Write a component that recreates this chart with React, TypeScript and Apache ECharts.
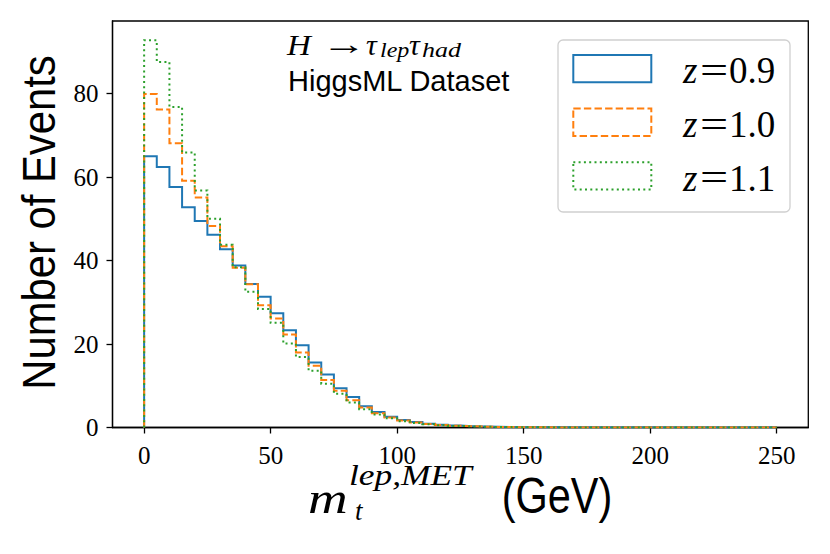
import React, { useEffect, useRef } from "react";
import * as echarts from "echarts";

// ---- data ----
const BIN_WIDTH = 5; // GeV per bin, bins start at 0
const X_TICKS = [0, 50, 100, 150, 200, 250];
const Y_TICKS = [0, 20, 40, 60, 80];
const X_MIN = -12.5;
const X_MAX = 262.5;
const Y_MIN = 0;
const Y_MAX = 97.4;

const Z_LABELS = ["0.9", "1.0", "1.1"];

const COUNTS_Z09 = [
  65.0, 62.4, 57.6, 52.8, 49.5, 46.2, 42.7, 38.8, 34.4, 31.3,
  27.4, 23.3, 19.7, 15.6, 12.7, 9.4, 7.3, 5.1, 3.7, 2.6,
  1.8, 1.3, 0.9, 0.65, 0.45, 0.32, 0.22, 0.16, 0.11, 0.08,
  0.06, 0.04, 0.03, 0.02, 0.015, 0.01, 0.008, 0.006, 0.005, 0.004,
  0.003, 0.002, 0.002, 0.001, 0.001, 0.001, 0.0, 0.0, 0.0, 0.0,
];
const COUNTS_Z10 = [
  79.9, 76.2, 68.1, 59.1, 55.1, 48.3, 43.4, 38.3, 34.3, 29.3,
  26.1, 22.3, 18.0, 14.8, 11.4, 8.8, 6.5, 4.8, 3.4, 2.4,
  1.7, 1.2, 0.85, 0.6, 0.42, 0.3, 0.2, 0.14, 0.1, 0.07,
  0.05, 0.035, 0.025, 0.018, 0.012, 0.009, 0.007, 0.005, 0.004, 0.003,
  0.002, 0.002, 0.001, 0.001, 0.001, 0.0, 0.0, 0.0, 0.0, 0.0,
];
const COUNTS_Z11 = [
  92.8, 87.6, 76.8, 65.9, 56.8, 50.0, 43.8, 38.4, 32.5, 28.4,
  25.1, 20.1, 16.9, 13.6, 10.5, 8.1, 6.0, 4.4, 3.1, 2.2,
  1.5, 1.1, 0.8, 0.55, 0.38, 0.27, 0.18, 0.12, 0.09, 0.06,
  0.04, 0.03, 0.02, 0.015, 0.01, 0.008, 0.006, 0.004, 0.003, 0.002,
  0.002, 0.001, 0.001, 0.001, 0.0, 0.0, 0.0, 0.0, 0.0, 0.0,
];

const COLORS = ["#1f77b4", "#ff7f0e", "#2ca02c"];
const DASHES: (number[] | "solid")[] = ["solid", [7.4, 3.2], [2, 3.3]];
const ALL_COUNTS = [COUNTS_Z09, COUNTS_Z10, COUNTS_Z11];

const SERIF = "'Liberation Serif', 'DejaVu Serif', serif";
const SANS = "'Liberation Sans', 'DejaVu Sans', sans-serif";

function stepPoints(counts: number[]) {
  const pts: number[][] = [[0, 0]];
  counts.forEach((c, i) => {
    pts.push([i * BIN_WIDTH, c]);
    pts.push([(i + 1) * BIN_WIDTH, c]);
  });
  pts.push([counts.length * BIN_WIDTH, 0]);
  return pts;
}

function txt(
  text: string,
  x: number,
  y: number,
  size: number,
  font: string,
  o: { italic?: boolean; align?: string; sx?: number; rot?: number } = {}
) {
  return {
    type: "text",
    x,
    y,
    scaleX: o.sx ?? 1,
    rotation: o.rot ?? 0,
    z: 100,
    silent: true,
    style: {
      text,
      fontSize: size,
      fontFamily: font,
      fontStyle: o.italic ? "italic" : "normal",
      fill: "#000",
      align: o.align ?? "left",
      verticalAlign: "middle",
    },
  };
}

export default function App() {
  const ref = useRef<HTMLDivElement>(null);

  useEffect(() => {
    if (!ref.current) return;
    const chart = echarts.init(ref.current, undefined, { renderer: "svg" });

    const series = ALL_COUNTS.map((counts, i) => ({
      type: "line",
      name: "z=" + Z_LABELS[i],
      data: stepPoints(counts),
      showSymbol: false,
      symbol: "none",
      silent: true,
      z: 2 + i,
      lineStyle: {
        color: COLORS[i],
        width: 2,
        type: DASHES[i],
        cap: "butt",
        join: "miter",
      },
    }));

    const legendGraphics: any[] = [
      {
        type: "rect",
        shape: { x: 558, y: 40, width: 232, height: 172, r: 5 },
        style: { fill: "rgba(255,255,255,0.8)", stroke: "#d0d0d0", lineWidth: 1.3 },
        z: 90,
        silent: true,
      },
    ];
    Z_LABELS.forEach((lab, i) => {
      const top = 55 + i * 53.6;
      const mid = 70.8 + i * 53.6;
      legendGraphics.push({
        type: "rect",
        shape: { x: 573.3, y: top, width: 78, height: 27.3 },
        style: {
          fill: "none",
          stroke: COLORS[i],
          lineWidth: 2,
          lineDash: DASHES[i] === "solid" ? null : DASHES[i],
        },
        z: 95,
        silent: true,
      });
      legendGraphics.push(txt("z", 683, mid, 37, SERIF, { italic: true }));
      legendGraphics.push(txt("=", 714.2, mid, 37, SERIF, { align: "center", sx: 1.35 }));
      legendGraphics.push(txt(lab, 729, mid, 37, SERIF));
    });

    const textGraphics = [
      // y axis title
      txt("Number of Events", 39, 222.5, 46, SANS, { align: "center", sx: 0.909, rot: Math.PI / 2 }),
      // x axis title
      txt("m", 308, 498, 44, SERIF, { italic: true, sx: 1.25 }),
      txt("t", 355, 511, 27, SERIF, { italic: true }),
      txt("lep,MET", 349, 475, 29, SERIF, { italic: true, sx: 1.22 }),
      txt("(GeV)", 557, 495.5, 50, SANS, { align: "center", sx: 0.83 }),
      // annotation
      txt("H", 287, 44.8, 30, SERIF, { italic: true, sx: 1.1 }),
      txt("→", 344, 43.5, 30, SERIF, { align: "center", sx: 1.5 }),
      txt("τ", 366, 44.8, 30, SERIF, { italic: true }),
      txt("lep", 380, 50.5, 20, SERIF, { italic: true, sx: 1.2 }),
      txt("τ", 409, 44.8, 30, SERIF, { italic: true }),
      txt("had", 422, 50.5, 20, SERIF, { italic: true, sx: 1.3 }),
      txt("HiggsML Dataset", 288, 81, 29, SANS),
    ];

    const axisCommon = {
      axisTick: { show: true, length: 6, inside: false, lineStyle: { color: "#000", width: 1.3 } },
      splitLine: { show: false },
    };

    chart.setOption({
      animation: false,
      backgroundColor: "#fff",
      grid: {
        left: 112.5,
        right: 21.7,
        top: 21,
        bottom: 126.5,
        show: true,
        borderColor: "#000",
        borderWidth: 1.3,
        backgroundColor: "transparent",
        containLabel: false,
        outerBoundsMode: "none",
      },
      xAxis: {
        type: "value",
        min: X_MIN,
        max: X_MAX,
        ...axisCommon,
        axisLine: { show: true, onZero: false, lineStyle: { color: "#000", width: 1.3 } },
        axisTick: { ...axisCommon.axisTick, customValues: X_TICKS },
        axisLabel: {
          customValues: X_TICKS,
          margin: 15,
          fontSize: 25,
          fontFamily: SERIF,
          color: "#000",
          verticalAlign: "top",
        },
      },
      yAxis: {
        type: "value",
        min: Y_MIN,
        max: Y_MAX,
        ...axisCommon,
        axisLine: { show: true, onZero: false, lineStyle: { color: "#000", width: 1.3 } },
        axisTick: { ...axisCommon.axisTick, customValues: Y_TICKS },
        axisLabel: {
          customValues: Y_TICKS,
          margin: 14,
          fontSize: 25,
          fontFamily: SERIF,
          color: "#000",
        },
      },
      series,
      graphic: [...legendGraphics, ...textGraphics],
    });

    return () => chart.dispose();
  }, []);

  return (
    <div
      ref={ref}
      style={{ position: "fixed", left: 0, top: 0, width: 830, height: 554, background: "#fff" }}
    />
  );
}
